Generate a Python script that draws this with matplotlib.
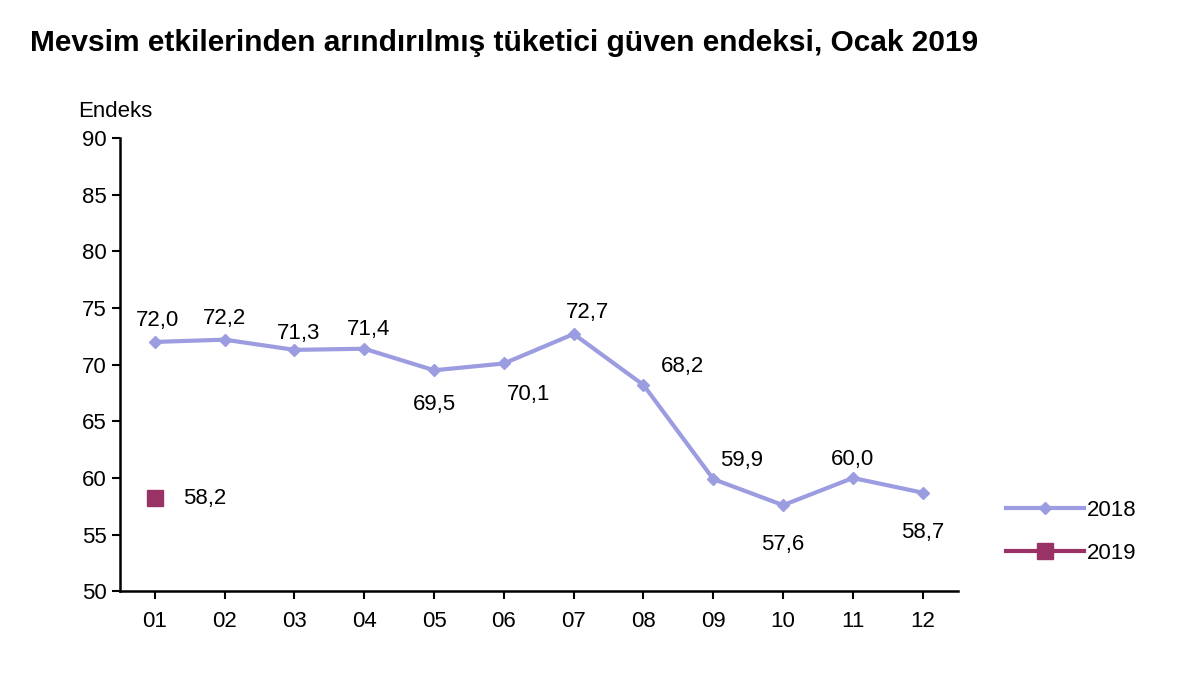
import matplotlib
matplotlib.use("Agg")
import matplotlib.pyplot as plt

plt.rcParams['font.family'] = ['Liberation Sans', 'DejaVu Sans']

months = ['01', '02', '03', '04', '05', '06', '07', '08', '09', '10', '11', '12']
v2018 = [72.0, 72.2, 71.3, 71.4, 69.5, 70.1, 72.7, 68.2, 59.9, 57.6, 60.0, 58.7]
v2019 = [58.2]

# label offsets in points (dx, dy)
offs = [(2, 8), (0, 8), (3, 4), (3, 6), (0, -32), (18, -30),
        (10, 8), (28, 6), (20, 6), (0, -36), (0, 6), (0, -36)]

fig = plt.figure(figsize=(12, 6.86), dpi=100)
ax = fig.add_axes([0.1, 0.138, 0.698, 0.661])

x = list(range(1, 13))
c18 = '#9c9ce0'
c19 = '#993366'
ax.plot(x, v2018, color=c18, lw=3, marker='D', ms=6, label='2018')
ax.plot(x[:1], v2019, color=c19, lw=3, marker='s', ms=11, label='2019')

for xi, v, (dx, dy) in zip(x, v2018, offs):
    ax.annotate(f'{v:.1f}'.replace('.', ','), (xi, v), xytext=(dx, dy),
                textcoords='offset points', ha='center', va='bottom',
                fontsize=16)
ax.annotate(f'{v2019[0]:.1f}'.replace('.', ','), (1, v2019[0]), xytext=(20, 0),
            textcoords='offset points', ha='left', va='center', fontsize=16)

ax.set_xlim(0.5, 12.5)
ax.set_ylim(50, 90)
ax.set_yticks(range(50, 91, 5))
ax.set_xticks(x)
ax.set_xticklabels(months)
ax.tick_params(labelsize=16, length=6, width=1.5, direction='out')
ax.tick_params(axis='x', pad=8)
for s in ['top', 'right']:
    ax.spines[s].set_visible(False)
for s in ['left', 'bottom']:
    ax.spines[s].set_linewidth(1.8)

fig.text(0.065, 0.83, 'Endeks', fontsize=16)
fig.text(0.025, 0.925, 'Mevsim etkilerinden arındırılmış tüketici güven endeksi, Ocak 2019',
         fontsize=21.5, fontweight='bold')

leg = fig.legend(loc='center left', bbox_to_anchor=(0.822, 0.225), frameon=False,
                 fontsize=16, handlelength=3.5, labelspacing=1.0, handletextpad=0.1)

fig.savefig('out.png', dpi=100)
